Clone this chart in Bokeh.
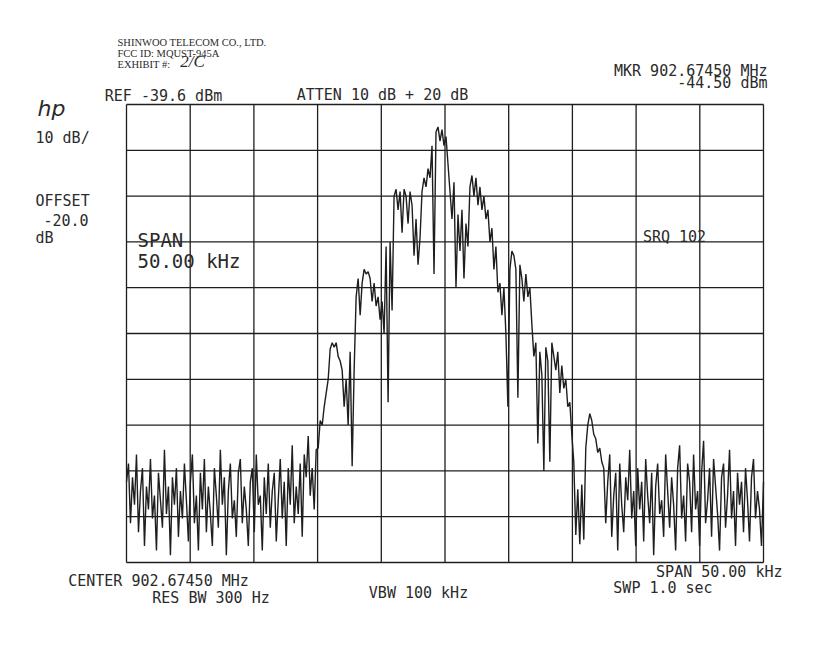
from bokeh.plotting import figure
from bokeh.models import Label, Range1d
from bokeh.embed import file_html
from bokeh.resources import INLINE
import numpy as np

# sweep settings
center_mhz = 902.67450
span_khz = 50.0
ref_dbm = -39.6
db_per_div = 10.0
n_div = 10

# trace, dBm, left to right across the sweep
noise_left = [
    -122, -118, -131, -121, -127, -116, -133, -124, -119, -136,
    -123, -128, -117, -130, -125, -137, -120, -126, -132, -115,
    -129, -123, -138, -121, -127, -119, -134, -124, -130, -118,
    -126, -135, -122, -116, -131, -125, -137, -120, -128, -117,
    -133, -123, -129, -136, -119, -125, -132, -115, -127, -121,
    -138, -124, -118, -130, -126, -134, -120, -117, -131, -123,
    -128, -136, -122, -119, -133, -116, -127, -125, -137, -121,
    -129, -118, -132, -124, -120, -135, -126, -117, -130, -122,
    -136, -119, -127, -114, -131, -123, -129, -118, -134, -116,
    -121, -112, -125, -119, -128, -115,
]

signal = [
    -114.6, -108.6, -109.6, -105.6, -102.6, -99.6, -93.0, -91.6, -92.6, -91.6,
    -94.6, -95.6, -97.6, -105.6, -99.6, -109.6, -93.6, -118.6, -97.6, -81.6,
    -77.6, -85.6, -78.6, -75.6, -76.6, -76.1, -77.6, -82.6, -78.6, -83.6,
    -81.6, -86.6, -82.6, -89.6, -70.6, -104.6, -69.6, -84.6, -59.6, -58.1,
    -62.6, -58.6, -67.6, -58.1, -59.6, -65.6, -58.6, -61.6, -72.6, -64.6,
    -74.6, -68.6, -58.6, -55.6, -57.6, -53.6, -55.6, -48.6, -76.6, -45.6,
    -44.5, -47.6, -45.1, -48.6, -46.6, -52.6, -58.6, -64.6, -56.6, -79.6,
    -63.6, -71.6, -62.6, -77.6, -65.6, -70.6, -57.6, -55.1, -59.6, -55.6,
    -61.6, -57.6, -62.6, -59.6, -64.6, -62.6, -69.6, -66.6, -75.6, -70.6,
    -80.6, -78.6, -85.6, -79.6, -89.6, -105.6, -75.6, -71.6, -72.6, -75.6,
    -103.6, -74.6, -77.6, -82.6, -76.6, -81.6, -79.6, -87.6, -94.6, -91.6,
    -113.6, -93.6, -98.6, -119.6, -92.6, -95.6, -117.6, -91.6, -94.6, -97.6,
    -93.6, -102.6, -96.6, -101.6, -99.6, -105.6, -104.6, -111.6, -117.6, -133.6,
    -123.6, -135.6, -122.6, -134.6, -114.6, -109.6, -107.1, -108.6, -111.6, -112.6,
    -115.6, -114.6, -117.6,
]

noise_right = [
    -119, -131, -122, -116, -134, -125, -120, -137, -118, -127,
    -133, -121, -126, -115, -130, -124, -136, -119, -128, -122,
    -135, -117, -125, -131, -120, -138, -123, -118, -129, -126,
    -134, -116, -124, -132, -121, -127, -137, -119, -114, -130,
    -125, -135, -118, -122, -133, -116, -128, -124, -136, -120,
    -113, -131, -126, -119, -134, -117, -123, -129, -137, -121,
    -118, -132, -125, -115, -130, -124, -136, -120, -127, -122,
    -133, -119, -126, -135, -121, -117, -130, -124, -128, -136,
    -122,
]

level = noise_left + signal + noise_right
offset_khz = np.linspace(-span_khz / 2, span_khz / 2, len(level))

bottom_dbm = ref_dbm - n_div * db_per_div
x_lo, x_hi = -span_khz / 2, span_khz / 2

INK = "#1e1e1e"
MONO = "DejaVu Sans Mono"

# the graticule sits at canvas pixels 126..763 x 104..562; the frame covers
# the whole canvas so the screen annotations around it are not clipped
W, H = 803, 634
GX0, GX1, GY0, GY1 = 126, 763, 104, 562
kx = (GX1 - GX0) / span_khz
ky = (GY1 - GY0) / (n_div * db_per_div)

p = figure(width=W, height=H, output_backend="svg", toolbar_location=None,
           x_axis_type=None, y_axis_type=None,
           x_range=Range1d(x_lo - GX0 / kx, x_hi + (W - GX1) / kx),
           y_range=Range1d(bottom_dbm - (H - GY1) / ky, ref_dbm + GY0 / ky),
           min_border=0)
p.background_fill_color = "white"
p.border_fill_color = "white"
p.outline_line_color = None
p.grid.visible = False

# graticule: 10 x 10 divisions
xdiv = [x_lo + k * span_khz / n_div for k in range(n_div + 1)]
ydiv = [bottom_dbm + k * db_per_div for k in range(n_div + 1)]
p.segment(x0=xdiv, y0=[bottom_dbm] * len(xdiv), x1=xdiv, y1=[ref_dbm] * len(xdiv),
          line_color=INK, line_width=1.3)
p.segment(x0=[x_lo] * len(ydiv), y0=ydiv, x1=[x_hi] * len(ydiv), y1=ydiv,
          line_color=INK, line_width=1.3)

p.line(offset_khz, level, line_color=INK, line_width=1.4)


def fx(px):
    return x_lo + (px - GX0) / kx


def fy(py):
    return ref_dbm - (py - GY0) / ky


def note(text, px, py, size="15px", font=MONO, align="center", style="normal", color="#2a2a2a"):
    p.add_layout(Label(x=fx(px), y=fy(py), text=text, text_align=align,
                       text_baseline="middle", text_font=font, text_font_size=size,
                       text_font_style=style, text_color=color))


# stamp on the scanned sheet
note("SHINWOO TELECOM CO., LTD.", 117, 42, size="10.5px", font="Liberation Serif", align="left")
note("FCC ID: MQUST-945A", 117, 53, size="10.5px", font="Liberation Serif", align="left")
note("EXHIBIT #:", 117, 64, size="10.5px", font="Liberation Serif", align="left")
note("2/C", 192, 61, size="17px", font="Liberation Serif", style="italic")

# analyzer annotations
note("hp", 51, 108, size="22px", font="DejaVu Sans", style="italic")
note("REF -39.6 dBm", 163, 95)
note("ATTEN 10 dB + 20 dB", 382, 94)
note("MKR 902.67450 MHz", 767, 70, align="right")
note("-44.50 dBm", 767, 82, align="right")
note("10 dB/", 35, 137, align="left")
note("OFFSET", 35, 200, align="left")
note("-20.0", 43, 219, align="left")
note("dB", 35, 237, align="left")
note("SPAN", 137, 239, size="19px", align="left")
note("50.00 kHz", 137, 260, size="19px", align="left")
note("SRQ 102", 674, 236.5)
note("CENTER 902.67450 MHz", 158, 580)
note("RES BW 300 Hz", 210.5, 597)
note("VBW 100 kHz", 418, 592)
note("SPAN 50.00 kHz", 782, 571, align="right")
note("SWP 1.0  sec", 667, 587)

open("out.html", "w").write(file_html(p, INLINE))
